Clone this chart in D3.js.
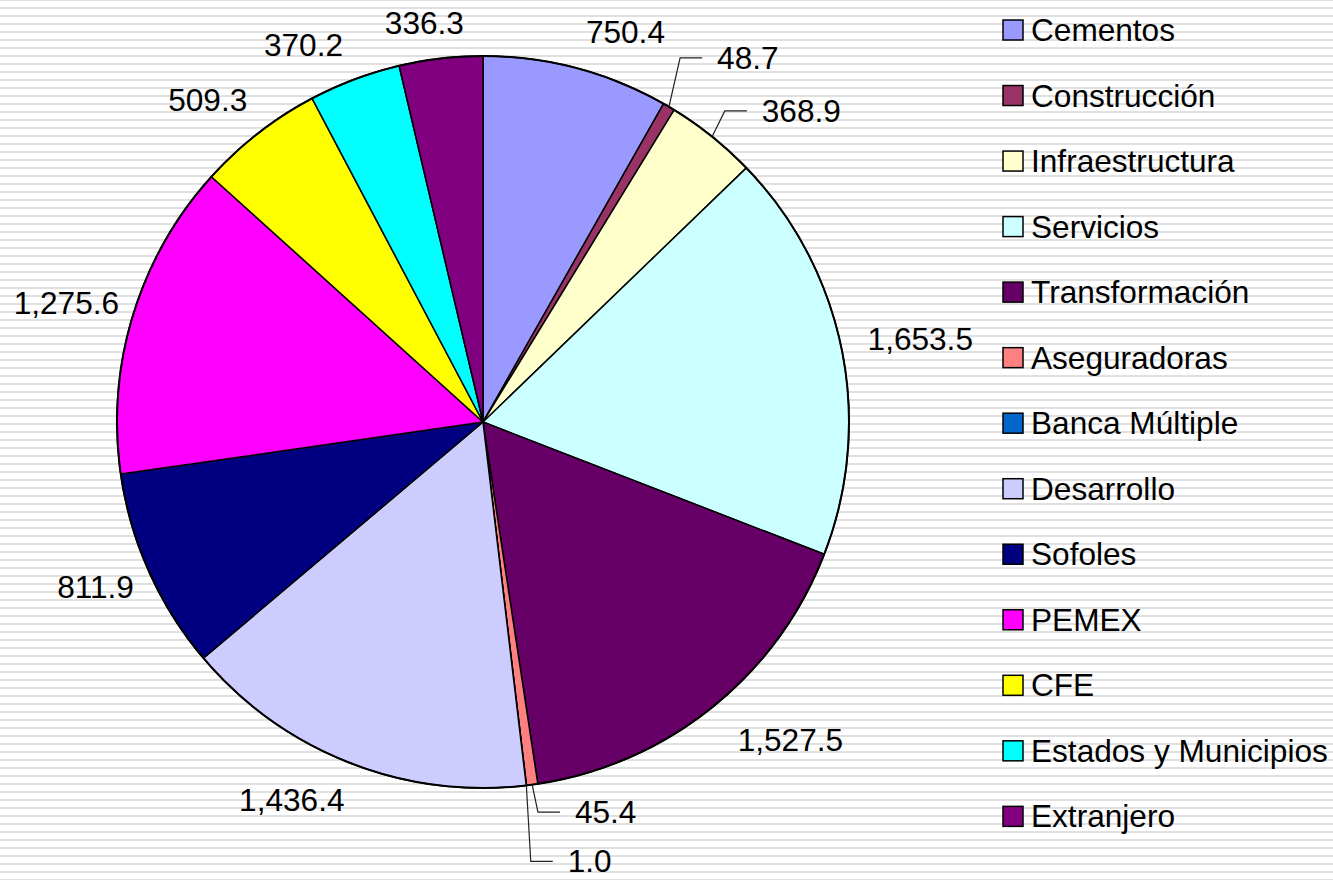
<!DOCTYPE html>
<html>
<head>
<meta charset="utf-8">
<script src="https://cdn.jsdelivr.net/npm/d3@7"></script>
<style>
  html, body { margin: 0; padding: 0; background: #fff; }
  svg { display: block; font-family: "Liberation Sans", Arial, sans-serif; }
</style>
</head>
<body>
<svg id="chart" width="1333" height="880"></svg>
<script>
// ---- data ----
const categories = ["Cementos", "Construcción", "Infraestructura", "Servicios", "Transformación",
  "Aseguradoras", "Banca Múltiple", "Desarrollo", "Sofoles", "PEMEX", "CFE",
  "Estados y Municipios", "Extranjero"];
const values = [750.4, 48.7, 368.9, 1653.5, 1527.5, 45.4, 1.0, 1436.4, 811.9, 1275.6, 509.3, 370.2, 336.3];
const colors = ["#9999FF", "#993366", "#FFFFCC", "#CCFFFF", "#660066", "#FF8080", "#0066CC",
  "#CCCCFF", "#000080", "#FF00FF", "#FFFF00", "#00FFFF", "#800080"];

// ---- layout ----
const W = 1333, H = 880;
const cx = 483, cy = 422, R = 366;
const fontSize = 31.6;
const capHalf = 11;
// label placement tweaks (angle nudge in degrees, radial extra in px, leader?)
const labelTweak = [
  {da: 4.1, dr: 10.5}, {da: -2.1, dr: 20, leader: true}, {da: -0.9, dr: 0, leader: true},
  {da: -0.4, dr: 4}, {da: -2.7, dr: 22}, {da: -0.3, dr: 0, leader: true},
  {da: 0.6, dr: 48, leader: true}, {da: 3.2, dr: 14.5}, {da: -0.2, dr: -3},
  {da: 0.5, dr: -6}, {da: -0.8, dr: 11}, {da: -3.5, dr: 11}, {da: -1.2, dr: 1}
];

const svg = d3.select("#chart");
const defs = svg.append("defs");
const pat = defs.append("pattern").attr("id", "stripes")
  .attr("patternUnits", "userSpaceOnUse").attr("x", 0).attr("y", -1)
  .attr("width", 8).attr("height", 8);
pat.append("rect").attr("width", 8).attr("height", 8).attr("fill", "#ffffff");
pat.append("rect").attr("y", 0).attr("width", 8).attr("height", 2).attr("fill", "#e0e0e0");
svg.append("rect").attr("width", W).attr("height", H).attr("fill", "url(#stripes)");

const data = categories.map((c, i) => ({name: c, value: values[i], color: colors[i], i}));
const pie = d3.pie().value(d => d.value).sort(null);
const arcs = pie(data);
const arc = d3.arc().innerRadius(0).outerRadius(R);

const g = svg.append("g").attr("transform", `translate(${cx},${cy})`);
g.selectAll("path.slice").data(arcs).join("path")
  .attr("class", "slice")
  .attr("d", arc)
  .attr("fill", d => d.data.color)
  .attr("stroke", "#000")
  .attr("stroke-width", 1.5)
  .attr("stroke-linejoin", "round");
g.append("circle").attr("r", R).attr("fill", "none").attr("stroke", "#000").attr("stroke-width", 2);

const fmt = d3.format(",.1f");
const labels = g.append("g");
arcs.forEach((a, i) => {
  const t = labelTweak[i];
  const mid = (a.startAngle + a.endAngle) / 2;
  const ang = mid + t.da * Math.PI / 180;
  const s = Math.sin(ang), c = -Math.cos(ang);
  const txt = labels.append("text")
    .attr("font-size", fontSize)
    .attr("fill", "#000")
    .text(fmt(a.data.value));
  const w = txt.node().getComputedTextLength();
  if (t.leader) {
    const rho = R + 28 + t.dr;
    const ex = rho * s, ey = rho * c;
    const ax = R * Math.sin(mid), ay = -R * Math.cos(mid);
    labels.append("polyline")
      .attr("points", [[ax, ay], [ex, ey], [ex + 22, ey]].map(p => p.join(",")).join(" "))
      .attr("fill", "none").attr("stroke", "#222").attr("stroke-width", 1.2);
    txt.attr("x", ex + 37).attr("y", ey + capHalf).attr("text-anchor", "start");
  } else {
    const rho = R + 24 + t.dr;
    const lx = (rho + w / 2) * s;
    const ly = (rho + 12) * c;
    txt.attr("x", lx).attr("y", ly + capHalf).attr("text-anchor", "middle");
  }
});

// ---- legend ----
const legX = 1003, legY0 = 30, legStep = 65.53;
const leg = svg.append("g");
data.forEach((d, i) => {
  const y = legY0 + i * legStep;
  leg.append("rect").attr("x", legX).attr("y", y - 10).attr("width", 20).attr("height", 20)
    .attr("fill", d.color).attr("stroke", "#000").attr("stroke-width", 1.5);
  leg.append("text").attr("x", 1031).attr("y", y + capHalf)
    .attr("font-size", fontSize).attr("fill", "#000").text(d.name);
});
</script>
</body>
</html>
